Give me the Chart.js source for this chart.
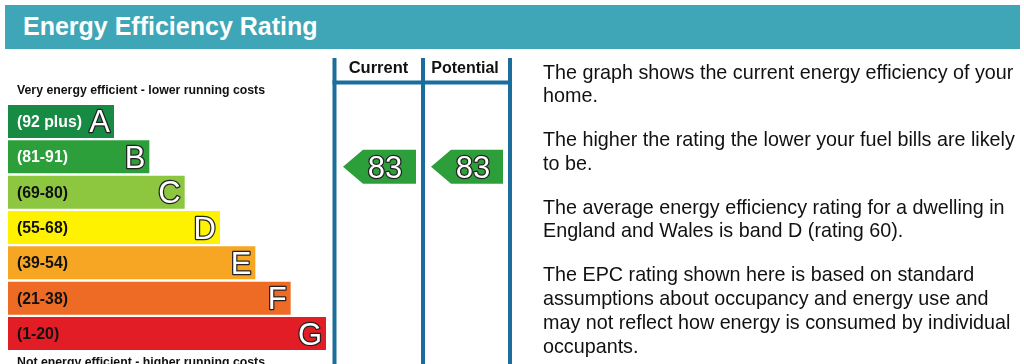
<!DOCTYPE html>
<html>
<head>
<meta charset="utf-8">
<title>Energy Efficiency Rating</title>
<script src="https://cdn.jsdelivr.net/npm/chart.js@4.4.1/dist/chart.umd.min.js"></script>
<style>
    body { margin: 0; width: 1024px; height: 364px; overflow: hidden; background: #fff;
           font-family: Arial, "Liberation Sans", sans-serif; position: relative; }
    #epc { position: absolute; left: 0; top: 0; }
    #title { position: absolute; left: 5px; top: 5px; width: 1015px; height: 44px; background: #3ea6b6;
             color: #fff; font-weight: bold; font-size: 25px; line-height: 42px; padding-left: 18px;
             box-sizing: border-box; }
    #notes { position: absolute; left: 543px; top: 59.5px; width: 512px; font-size: 21px;
             line-height: 23.8px; color: #111; transform: scaleX(0.94); transform-origin: 0 0; }
    #notes p { margin: 0 0 20px 0; }
</style>
</head>
<body>
<canvas id="epc" width="1024" height="364"></canvas>
<div id="title">Energy Efficiency Rating</div>
<div id="notes">
    <p>The graph shows the current energy efficiency of your home.</p>
    <p>The higher the rating the lower your fuel bills are likely to be.</p>
    <p>The average energy efficiency rating for a dwelling in England and Wales is band D (rating 60).</p>
    <p>The EPC rating shown here is based on standard assumptions about occupancy and energy use and may not reflect how energy is consumed by individual occupants.</p>
</div>
<script>
// Rating bands, top (best) to bottom (worst)
const bands = ['A', 'B', 'C', 'D', 'E', 'F', 'G'];
const bandLabels = ['(92 plus)', '(81-91)', '(69-80)', '(55-68)', '(39-54)', '(21-38)', '(1-20)'];
const bandMin = [92, 81, 69, 55, 39, 21, 1];
const bandMax = [100, 91, 80, 68, 54, 38, 20];
const barLengths = [3, 4, 5, 6, 7, 8, 9];
const currentRating = 83;
const potentialRating = 83;

const bandColors = ['#178a44', '#2c9f3a', '#8dc63f', '#fff200', '#f6a623', '#ee6b25', '#e31d25'];
const labelColors = ['#fff', '#fff', '#111', '#111', '#111', '#111', '#111'];
const lineColor = '#1b6e9c';

/**
 * Draw text with a thin dark outline and white fill
 */
function outlinedText(ctx, text, x, y) {
    ctx.lineWidth = 2.5;
    ctx.strokeStyle = '#222';
    ctx.lineJoin = 'round';
    ctx.strokeText(text, x, y);
    ctx.fillStyle = '#fff';
    ctx.fillText(text, x, y);
}

/**
 * Turn a rating into a y pixel, placed inside its band bar
 */
function ratingToY(chart, rating) {
    const bars = chart.getDatasetMeta(0).data;
    for (let i = 0; i < bands.length; i++) {
        if (rating >= bandMin[i] && rating <= bandMax[i]) {
            const top = bars[i].y - bars[i].height / 2;
            const frac = (bandMax[i] - rating) / (bandMax[i] - bandMin[i]);
            return top + frac * bars[i].height;
        }
    }
    return chart.chartArea.bottom;
}

function drawArrow(ctx, tipX, rightX, y, rating) {
    const half = 17;
    ctx.fillStyle = bandColors[1];
    ctx.beginPath();
    ctx.moveTo(tipX, y);
    ctx.lineTo(tipX + 20, y - half);
    ctx.lineTo(rightX, y - half);
    ctx.lineTo(rightX, y + half);
    ctx.lineTo(tipX + 20, y + half);
    ctx.closePath();
    ctx.fill();

    ctx.font = '31px Arial, "Liberation Sans", sans-serif';
    ctx.textAlign = 'center';
    ctx.textBaseline = 'alphabetic';
    outlinedText(ctx, String(rating), tipX + 42, y + 11);
}

const epcPlugin = {
    id: 'epcDecor',
    afterDatasetsDraw(chart) {
        const ctx = chart.ctx;
        const bars = chart.getDatasetMeta(0).data;
        ctx.save();

        // band labels and letters
        bars.forEach((bar, i) => {
            ctx.textBaseline = 'alphabetic';
            ctx.textAlign = 'left';
            ctx.fillStyle = labelColors[i];
            ctx.font = 'bold 15.8px Arial, "Liberation Sans", sans-serif';
            ctx.fillText(bandLabels[i], 17, bar.y + 5.5);

            ctx.textAlign = 'right';
            ctx.font = '31px Arial, "Liberation Sans", sans-serif';
            outlinedText(ctx, bands[i], bar.x - 4, bar.y + 11);
        });

        // captions
        ctx.fillStyle = '#111';
        ctx.textAlign = 'left';
        ctx.font = 'bold 12.3px Arial, "Liberation Sans", sans-serif';
        ctx.fillText('Very energy efficient - lower running costs', 17, 94);
        ctx.fillText('Not energy efficient - higher running costs', 17, 366);

        // current / potential columns
        ctx.fillStyle = lineColor;
        [334.5, 423, 510].forEach(x => ctx.fillRect(x - 2, 58, 4, 310));
        ctx.fillRect(332.5, 80.5, 179.5, 4);

        ctx.fillStyle = '#111';
        ctx.textAlign = 'center';
        ctx.font = 'bold 16.5px Arial, "Liberation Sans", sans-serif';
        ctx.fillText('Current', 378.5, 73);
        ctx.font = 'bold 16px Arial, "Liberation Sans", sans-serif';
        ctx.fillText('Potential', 465, 73);

        drawArrow(ctx, 343, 416, ratingToY(chart, currentRating), currentRating);
        drawArrow(ctx, 431, 503, ratingToY(chart, potentialRating), potentialRating);

        ctx.restore();
    }
};

new Chart(document.getElementById('epc'), {
    type: 'bar',
    data: {
        labels: bands,
        datasets: [{
            data: barLengths,
            backgroundColor: bandColors,
            borderWidth: 0,
            barPercentage: 1,
            categoryPercentage: 0.934
        }]
    },
    options: {
        indexAxis: 'y',
        responsive: false,
        animation: false,
        devicePixelRatio: 1,
        layout: {
            padding: { left: 8, right: 698, top: 103.8, bottom: 12.8 }
        },
        plugins: {
            legend: { display: false },
            tooltip: { enabled: false }
        },
        scales: {
            x: { display: false, min: 0, max: 9 },
            y: { display: false }
        }
    },
    plugins: [epcPlugin]
});
</script>
</body>
</html>
